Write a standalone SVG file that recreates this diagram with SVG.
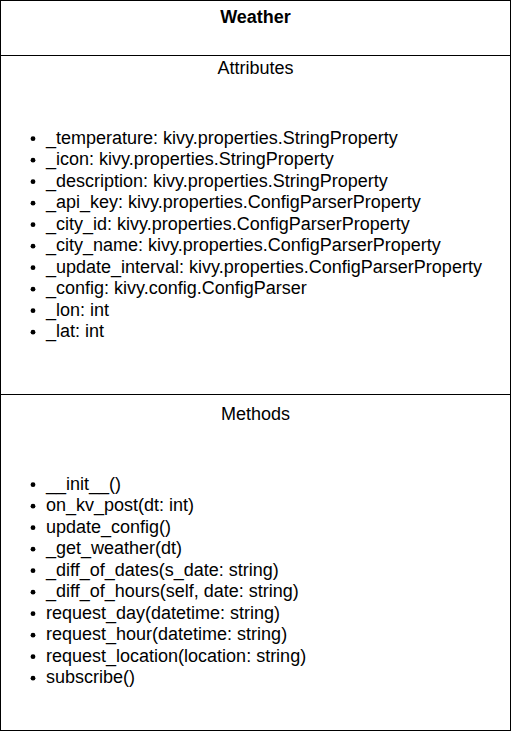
<svg xmlns="http://www.w3.org/2000/svg" width="511" height="731" viewBox="0 0 511 731">
<style>
text{font-family:"Liberation Sans",Arial,sans-serif;font-size:18px;fill:#000}
.t{font-weight:bold;text-anchor:middle}
.h{text-anchor:middle}
.ln{stroke:#000;stroke-width:1;fill:none}
</style>
<rect width="511" height="731" fill="#fff"/>
<g id="weather">
<rect class="ln" x="0.5" y="0.5" width="510" height="730"/>
<line class="ln" x1="0.5" y1="55.5" x2="510.5" y2="55.5"/>
<line class="ln" x1="0.5" y1="394.5" x2="510.5" y2="394.5"/>
<text class="t" x="255.5" y="23">Weather</text>
<text class="h" x="255.5" y="74">Attributes</text>
<g id="attributes">
<g fill="#000">
<circle cx="33" cy="138.7" r="2.4"/><circle cx="33" cy="160.2" r="2.4"/><circle cx="33" cy="181.7" r="2.4"/><circle cx="33" cy="203.2" r="2.4"/><circle cx="33" cy="224.7" r="2.4"/><circle cx="33" cy="246.2" r="2.4"/><circle cx="33" cy="267.7" r="2.4"/><circle cx="33" cy="289.2" r="2.4"/><circle cx="33" cy="310.7" r="2.4"/><circle cx="33" cy="332.2" r="2.4"/>
</g>
<text x="46" y="143.5">_temperature: kivy.properties.StringProperty</text>
<text x="46" y="165">_icon: kivy.properties.StringProperty</text>
<text x="46" y="186.5">_description: kivy.properties.StringProperty</text>
<text x="46" y="208">_api_key: kivy.properties.ConfigParserProperty</text>
<text x="46" y="229.5">_city_id: kivy.properties.ConfigParserProperty</text>
<text x="46" y="251">_city_name: kivy.properties.ConfigParserProperty</text>
<text x="46" y="272.5">_update_interval: kivy.properties.ConfigParserProperty</text>
<text x="46" y="294">_config: kivy.config.ConfigParser</text>
<text x="46" y="315.5">_lon: int</text>
<text x="46" y="337">_lat: int</text>
</g>
<text class="h" x="255.5" y="419.5">Methods</text>
<g id="methods">
<g fill="#000">
<circle cx="33" cy="484.7" r="2.4"/><circle cx="33" cy="506.2" r="2.4"/><circle cx="33" cy="527.7" r="2.4"/><circle cx="33" cy="549.2" r="2.4"/><circle cx="33" cy="570.7" r="2.4"/><circle cx="33" cy="592.2" r="2.4"/><circle cx="33" cy="613.7" r="2.4"/><circle cx="33" cy="635.2" r="2.4"/><circle cx="33" cy="656.7" r="2.4"/><circle cx="33" cy="678.2" r="2.4"/>
</g>
<text x="46" y="489.5">__init__()</text>
<text x="46" y="511">on_kv_post(dt: int)</text>
<text x="46" y="532.5">update_config()</text>
<text x="46" y="554">_get_weather(dt)</text>
<text x="46" y="575.5">_diff_of_dates(s_date: string)</text>
<text x="46" y="597">_diff_of_hours(self, date: string)</text>
<text x="46" y="618.5">request_day(datetime: string)</text>
<text x="46" y="640">request_hour(datetime: string)</text>
<text x="46" y="661.5">request_location(location: string)</text>
<text x="46" y="683">subscribe()</text>
</g>
</g>
</svg>
